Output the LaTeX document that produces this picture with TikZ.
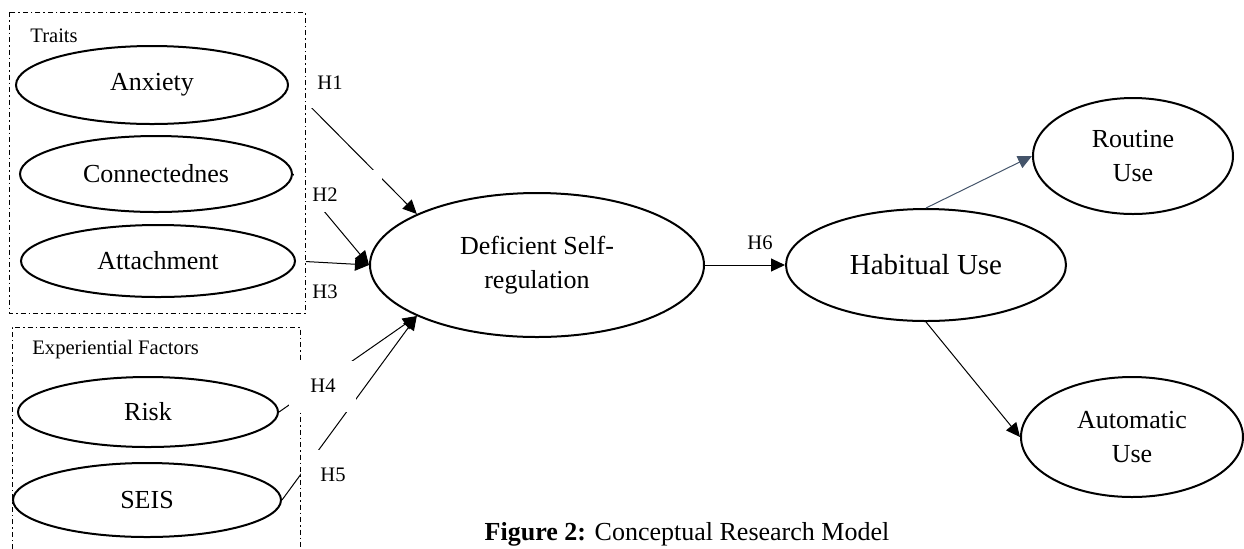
\documentclass[tikz,border=0pt]{standalone}
\usepackage{fontspec}
\setmainfont{Liberation Serif}
\usetikzlibrary{arrows.meta,shapes.geometric}
\definecolor{slate}{HTML}{44546A}
\begin{document}
\begin{tikzpicture}[x=0.5pt,y=-0.5pt,
    construct/.style={draw,ellipse,line width=1pt,inner sep=0pt,align=center,
      font=\fontsize{13}{17}\selectfont},
    grp/.style={line width=0.5pt,dash pattern=on 2.5pt off 1.5pt on 0.75pt off 1.5pt},
    link/.style={line width=0.5pt,-{Triangle[length=7pt,width=6.5pt]}},
    hyp/.style={inner sep=0pt,font=\fontsize{10.3}{12}\selectfont},
    cover/.style={fill=white}]
  \useasboundingbox (0,0) rectangle (1244,548);
  % constructs
  \node[construct,minimum width=136pt,minimum height=39pt] (anx) at (152,85) {Anxiety};
  \node[construct,minimum width=136pt,minimum height=38pt] (con) at (156,174) {Connectednes};
  \node[construct,minimum width=137pt,minimum height=36pt] (att) at (158,261) {Attachment};
  \node[construct,minimum width=130pt,minimum height=35pt] (risk) at (148,412) {Risk};
  \node[construct,minimum width=134pt,minimum height=37pt] (seis) at (147,500) {SEIS};
  \node[construct,minimum width=167pt,minimum height=72pt] (dsr) at (537,265) {Deficient Self-\\regulation};
  \node[construct,minimum width=140pt,minimum height=56pt,font=\fontsize{14.5}{17}\selectfont] (hab) at (926,265) {Habitual Use};
  \node[construct,minimum width=100pt,minimum height=58pt] (rout) at (1133,156) {Routine\\Use};
  \node[construct,minimum width=111pt,minimum height=60pt] (aut) at (1132,437) {Automatic\\Use};
  \draw[grp] (12,549) -- (12,327) -- (300,327) -- (300,549);
  % paths
  \draw[link] (anx.east) -- (dsr.157);
  \draw[link] (con.east) -- (dsr.west);
  \draw[link,shorten <=5pt] (att.east) -- (dsr.west);
  \draw[link] (risk.east) -- (dsr.203);
  \draw[link] (seis.east) -- (dsr.203);
  \draw[link] (dsr.east) -- (hab.west);
  \draw[link,slate] (hab.north) -- (rout.west);
  \draw[link] (hab.south) -- (aut.west);
  % label boxes
  \fill[cover] (289,62) rectangle (358,108);
  \fill[cover] (294,170) rectangle (382,212);
  \fill[cover] (289,361) rectangle (356,412);
  \fill[cover] (301,450) rectangle (362,500);
  \draw[grp] (9,12) rectangle (305,313);
  \node[hyp,anchor=west] (traits) at (30,36) {Traits};
  \node[hyp,anchor=west] (exp) at (32,350) {Experiential Factors};
  \node[hyp] (h1) at (330,83) {H1};
  \node[hyp] (h2) at (325,195) {H2};
  \node[hyp] (h3) at (325,292) {H3};
  \node[hyp] (h4) at (323,386) {H4};
  \node[hyp] (h5) at (333,475) {H5};
  \node[hyp] (h6) at (760,243) {H6};
  \node[anchor=base,font=\fontsize{13}{15}\selectfont] (cap) at (687,540) {\textbf{Figure 2:} Conceptual Research Model};
\end{tikzpicture}
\end{document}
